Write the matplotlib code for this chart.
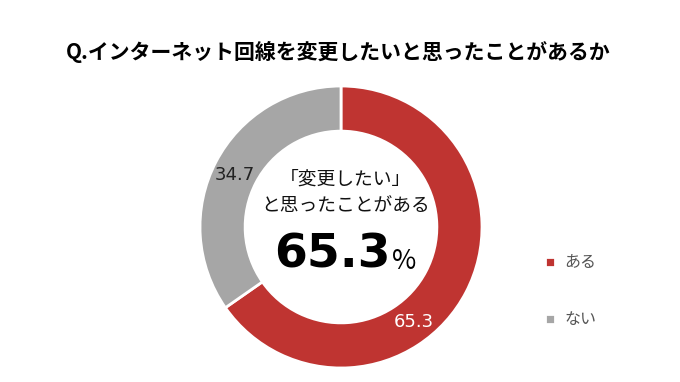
import matplotlib
matplotlib.use('Agg')
import matplotlib.pyplot as plt
import numpy as np

plt.rcParams['font.family'] = ['Noto Sans CJK JP', 'DejaVu Sans']

# data
categories = ['ある', 'ない']
values = [65.3, 34.7]
colors = ['#BF3431', '#A6A6A6']
title = 'Q.インターネット回線を変更したいと思ったことがあるか'

W, H = 680, 382
fig = plt.figure(figsize=(W / 100, H / 100), dpi=100)

# donut axes (center ~ (341, 227) px, radius ~141 px)
cx, cy, r = 341, 227, 141
ax = fig.add_axes([(cx - r) / W, (H - cy - r) / H, 2 * r / W, 2 * r / H])
wedges, _ = ax.pie(values, colors=colors, startangle=90, counterclock=False,
                   radius=1.0,
                   wedgeprops=dict(width=0.32, edgecolor='white', linewidth=2))
ax.set_aspect('equal')
ax.set_xlim(-1, 1)
ax.set_ylim(-1, 1)

# value labels
label_pos = {0: (-52.5, 0.85, 'white'), 1: (154, 0.84, '#222222')}
for i, v in enumerate(values):
    ang, dist, col = label_pos[i]
    a = np.deg2rad(ang)
    ax.text(dist * np.cos(a), dist * np.sin(a), f'{v:.1f}', ha='center', va='center',
            fontsize=13, color=col, family='DejaVu Sans')

# center text
ax.text(0.03, 0.34, '「変更したい」', ha='center', va='center', fontsize=13.5, color='#111111')
ax.text(0.03, 0.15, 'と思ったことがある', ha='center', va='center', fontsize=13.5, color='#111111')
ax.text(-0.06, -0.2, f'{values[0]:.1f}', ha='center', va='center', fontsize=34,
        fontweight='bold', color='black', family='DejaVu Sans')
ax.text(0.45, -0.245, '%', ha='center', va='center', fontsize=19, color='black')

# title
fig.text(0.497, 1 - 52 / H, title, ha='center', va='center', fontsize=15,
         fontweight='bold', color='black')

# legend
leg = fig.legend(wedges, categories, loc='upper left', bbox_to_anchor=(531 / W, 1 - 240 / H),
                 frameon=False, fontsize=11.5, labelspacing=2.5, handlelength=0.6,
                 handleheight=0.6, handletextpad=0.6, labelcolor='#555555')

fig.savefig('out.png', dpi=100)
